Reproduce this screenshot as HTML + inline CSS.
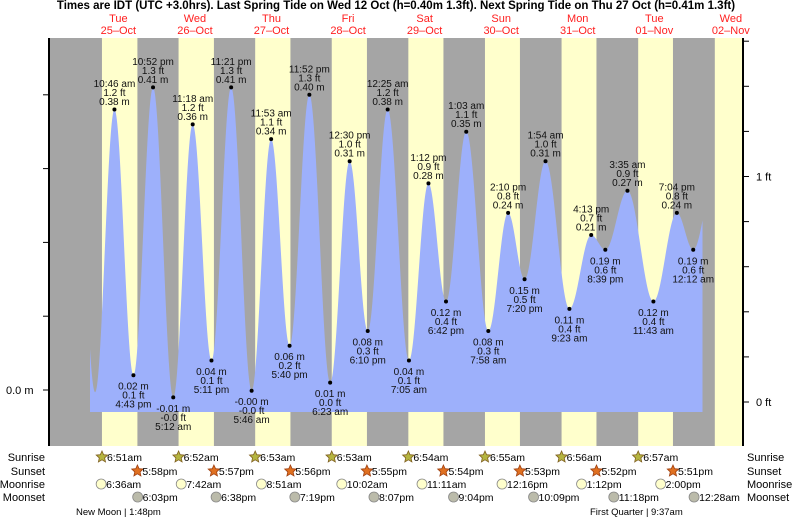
<!DOCTYPE html>
<html><head><meta charset="utf-8"><style>
html,body{margin:0;padding:0;background:#fff;}
svg{display:block;font-family:"Liberation Sans",Arial,sans-serif;}
</style></head><body>
<svg id="chart" width="793" height="520" viewBox="0 0 793 520" xmlns="http://www.w3.org/2000/svg">
<text x="396" y="9" text-anchor="middle" font-size="11.5" font-weight="bold">Times are IDT (UTC +3.0hrs). Last Spring Tide on Wed 12 Oct (h=0.40m 1.3ft). Next Spring Tide on Thu 27 Oct (h=0.41m 1.3ft)</text>
<g id="bg"></g><g id="tide"></g><g id="axes"></g><g id="labels"></g><g id="astro"></g>
</svg>
<script>
// ---- data ----
const dayNames = ["Tue","Wed","Thu","Fri","Sat","Sun","Mon","Tue","Wed"];
const dayDates = ["25–Oct","26–Oct","27–Oct","28–Oct","29–Oct","30–Oct","31–Oct","01–Nov","02–Nov"];
const tideHours = [10.767,16.717,22.867,29.2,35.3,41.183,47.35,53.767,59.883,65.667,71.867,78.383,84.5,90.167,96.417,103.083,109.2,114.7,121.05,127.967,134.167,139.333,145.9,153.383,160.217,164.65,171.583,179.717,187.067,192.2];
const tideHeights = [0.38,0.02,0.41,-0.01,0.36,0.04,0.41,-0.001,0.34,0.06,0.40,0.01,0.31,0.08,0.38,0.04,0.28,0.12,0.35,0.08,0.24,0.15,0.31,0.11,0.21,0.19,0.27,0.12,0.24,0.19];
const tideTimes = ["10:46 am","4:43 pm","10:52 pm","5:12 am","11:18 am","5:11 pm","11:21 pm","5:46 am","11:53 am","5:40 pm","11:52 pm","6:23 am","12:30 pm","6:10 pm","12:25 am","7:05 am","1:12 pm","6:42 pm","1:03 am","7:58 am","2:10 pm","7:20 pm","1:54 am","9:23 am","4:13 pm","8:39 pm","3:35 am","11:43 am","7:04 pm","12:12 am"];
const tideIsHigh = [1,0,1,0,1,0,1,0,1,0,1,0,1,0,1,0,1,0,1,0,1,0,1,0,1,0,1,0,1,0];
const edgeBefore = [-1.7,0.40, 4.7,-0.003];
const edgeAfter = [198.5,0.28];
const sunriseH = [6.85,30.867,54.883,78.883,102.9,126.917,150.933,174.95,198.967];
const sunsetH = [17.967,41.95,65.933,89.917,113.9,137.883,161.867,185.85];
const sunriseLbl = ["6:51am","6:52am","6:53am","6:53am","6:54am","6:55am","6:56am","6:57am"];
const sunsetLbl = ["5:58pm","5:57pm","5:56pm","5:55pm","5:54pm","5:53pm","5:52pm","5:51pm"];
const moonriseH = [6.6,31.7,56.85,82.033,107.183,132.267,157.2,182.0];
const moonriseLbl = ["6:36am","7:42am","8:51am","10:02am","11:11am","12:16pm","1:12pm","2:00pm"];
const moonsetH = [18.05,42.633,67.317,92.117,117.067,142.15,167.3,192.467];
const moonsetLbl = ["6:03pm","6:38pm","7:19pm","8:07pm","9:04pm","10:09pm","11:18pm","12:28am"];

// ---- scales ----
const X0=80.1, K=3.19, L=49, R=743, T=38, B=446;
const x = h => X0 + h*K;
const y = m => 390 - m*738;
const yft = f => 402 - f*225.5;
const NS="http://www.w3.org/2000/svg";
function mk(tag, parent, attrs){const e=document.createElementNS(NS,tag);for(const k in attrs)e.setAttribute(k,attrs[k]);parent.appendChild(e);return e;}
const bg=document.getElementById('bg'), tide=document.getElementById('tide'), axes=document.getElementById('axes'), labels=document.getElementById('labels'), astro=document.getElementById('astro');

// background
let r=mk('rect',bg,{x:L,y:T,width:R-L,height:B-T,fill:'#a5a5a5'});


for(let i=0;i<sunriseH.length;i++){
  const x1=x(sunriseH[i]); const x2=i<sunsetH.length?x(sunsetH[i]):R;
  const d=mk('rect',bg,{x:x1,y:T,width:Math.min(x2,R)-x1,height:B-T,fill:'#ffffcc'});
  
  
}
// day labels
for(let i=0;i<dayNames.length;i++){
  const cx=x(i*24+12);
  const t=mk('text',bg,{x:cx,y:22,'text-anchor':'middle','font-size':'11',fill:'#ff2020'});
  t.textContent=dayNames[i];
  
  
  const t2=mk('text',bg,{x:cx,y:34,'text-anchor':'middle','font-size':'11',fill:'#ff2020'});
  t2.textContent=dayDates[i];
  
  
}
// tide curve
const ph=[edgeBefore[0],edgeBefore[2]].concat(tideHours,[edgeAfter[0]]);
const pv=[edgeBefore[1],edgeBefore[3]].concat(tideHeights,[edgeAfter[1]]);
const hs=(90-X0)/K, he=(702.5-X0)/K;
function val(h){for(let i=0;i<ph.length-1;i++){if(h>=ph[i]&&h<=ph[i+1]){const f=(h-ph[i])/(ph[i+1]-ph[i]);return pv[i]+(pv[i+1]-pv[i])*(1-Math.cos(Math.PI*f))/2;}}return pv[pv.length-1];}
let d='M'+x(hs)+','+412;
for(let h=hs;h<=he;h+=0.1){d+=' L'+x(h).toFixed(2)+','+y(val(h)).toFixed(2);}
d+=' L'+x(he)+','+y(val(he)).toFixed(2)+' L'+x(he)+',412 Z';
const area=mk('path',tide,{d:d,fill:'#9db0fb'});



// axes
const la=mk('line',axes,{x1:L,y1:T,x2:L,y2:B,stroke:'#000','stroke-width':2});


const ra=mk('line',axes,{x1:R,y1:T,x2:R,y2:B,stroke:'#000','stroke-width':2});


for(let k=0;k<5;k++){const ty=y(k*0.1);const tk=mk('line',axes,{x1:L-6,y1:ty,x2:L,y2:ty,stroke:'#000'});
  
  }
for(let k=0;k<9;k++){const ty=yft(k*0.2);const tk=mk('line',axes,{x1:R,y1:ty,x2:R+6,y2:ty,stroke:'#000'});
  
  }
let at=mk('text',axes,{x:6,y:y(0)+4,'font-size':'11'});at.textContent='0.0 m';


at=mk('text',axes,{x:756,y:yft(1)+4,'font-size':'11'});at.textContent='1 ft';


at=mk('text',axes,{x:756,y:yft(0)+4,'font-size':'11'});at.textContent='0 ft';



// tide labels
for(let i=0;i<tideHours.length;i++){
  const cx=x(tideHours[i]), cy=y(tideHeights[i]);
  const dot=mk('circle',labels,{cx:cx,cy:cy,r:2,fill:'#000'});
  
  
  const m=tideHeights[i].toFixed(2)+' m', f=(tideHeights[i]*3.2808).toFixed(1)+' ft';
  const lines=tideIsHigh[i]?[tideTimes[i],f,m]:[m,f,tideTimes[i]];
  const base=tideIsHigh[i]?cy-26:cy+11;
  lines.forEach((s,j)=>{const t=mk('text',labels,{x:cx,y:base+j*9+3.5,'text-anchor':'middle','font-size':'10',fill:'#111'});t.textContent=s;
    
    });
}

// astro rows
const rowY=[457,471,484,497];
const rowNames=['Sunrise','Sunset','Moonrise','Moonset'];
rowNames.forEach((n,i)=>{
  let t=mk('text',astro,{x:45,y:rowY[i]+4,'text-anchor':'end','font-size':'11'});t.textContent=n;
  
  
  t=mk('text',astro,{x:747,y:rowY[i]+4,'font-size':'11'});t.textContent=n;
  
  
});
function star(cx,cy,fill,stroke){let p='';for(let k=0;k<10;k++){const a=-Math.PI/2+k*Math.PI/5;const rr=k%2?2.8:6;p+=(cx+rr*Math.cos(a)).toFixed(1)+','+(cy+rr*Math.sin(a)).toFixed(1)+' ';}return mk('polygon',astro,{points:p,fill:fill,stroke:stroke,'stroke-width':0.8});}
function item(h,lbl,row,kind){
  const cx=x(h), cy=rowY[row];let ic;
  if(kind==0) ic=star(cx,cy,'#b5b540','#806020');
  else if(kind==1) ic=star(cx,cy,'#e07020','#a04010');
  else ic=mk('circle',astro,{cx:cx,cy:cy,r:5,fill:kind==2?'#ffffcc':'#bbbbaa',stroke:'#888','stroke-width':0.8});
  
  
  const t=mk('text',astro,{x:cx+5,y:cy+4,'font-size':'10.5'});t.textContent=lbl;
  
  
}
for(let i=0;i<sunriseLbl.length;i++) item(sunriseH[i],sunriseLbl[i],0,0);
for(let i=0;i<sunsetLbl.length;i++) item(sunsetH[i],sunsetLbl[i],1,1);
for(let i=0;i<moonriseLbl.length;i++) item(moonriseH[i],moonriseLbl[i],2,2);
for(let i=0;i<moonsetLbl.length;i++) item(moonsetH[i],moonsetLbl[i],3,3);
let mp=mk('text',astro,{x:76,y:515,'font-size':'9.5'});mp.textContent='New Moon | 1:48pm';


mp=mk('text',astro,{x:590,y:515,'font-size':'9.5'});mp.textContent='First Quarter | 9:37am';


</script>
</body></html>
